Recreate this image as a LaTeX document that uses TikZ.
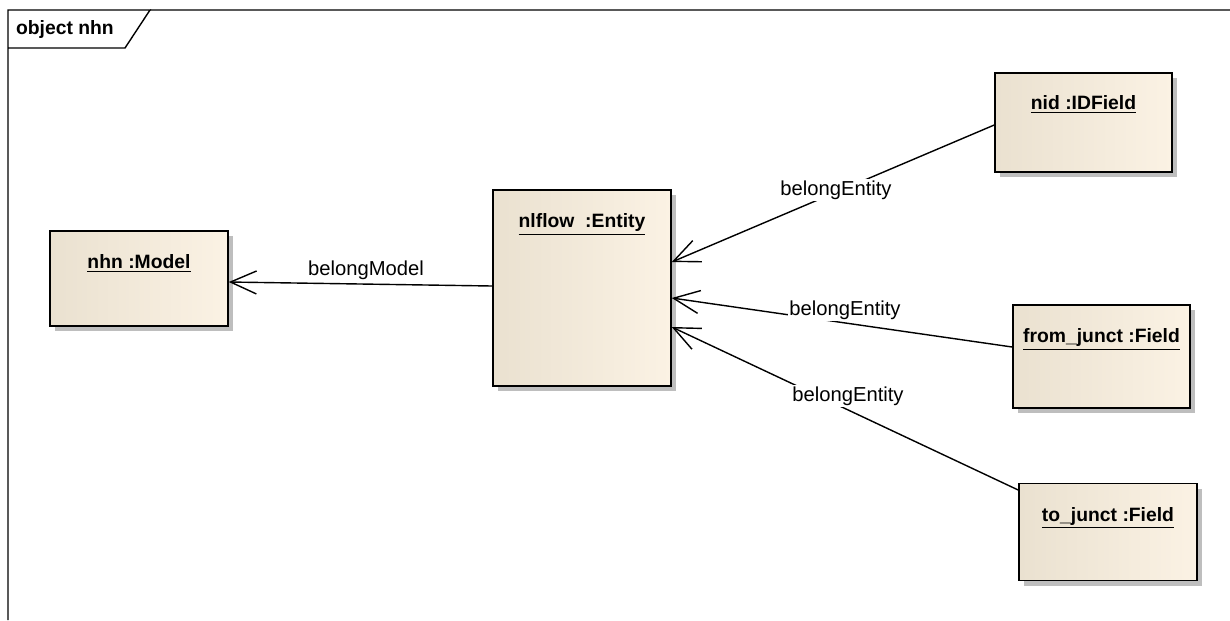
\documentclass[tikz,border=0pt]{standalone}
\usepackage{fontspec}
\setmainfont{Liberation Sans}
\usetikzlibrary{arrows.meta,shadows}
\begin{document}
\begin{tikzpicture}[x=0.02cm, y=-0.02cm,
  objbox/.style={draw, line width=0.9pt, rectangle, inner sep=0pt,
    left color={rgb,255:red,234;green,225;blue,208}, right color={rgb,255:red,251;green,242;blue,228},
    drop shadow={shadow xshift=0.1cm, shadow yshift=-0.1cm, fill={rgb,255:red,190;green,190;blue,190}, opacity=1}},
  objtitle/.style={font=\fontsize{11}{13}\selectfont\bfseries, inner sep=1pt},
  assoc/.style={line width=0.8pt, -{Straight Barb[length=0.52cm, width=0.46cm, line width=0.8pt]}},
  assoclabel/.style={font=\fontsize{11.5}{13}\selectfont, fill=white, inner sep=1pt}]
  \useasboundingbox (0,0) rectangle (1230,620);
  % frame and tab
  \draw [line width=0.8pt, gray!70!black] (150,10) -- (1230,10);
  \draw [line width=0.8pt] (8,620) -- (8,10) -- (150,10) -- (125,48) -- (8,48);
  \node [objtitle, anchor=west] (frametitle) at (14,29) {object nhn};
  % objects
  \node [objbox, minimum width=3.56cm, minimum height=1.9cm] (model) at (139,278.5) {};
  \node [objbox, minimum width=3.56cm, minimum height=3.92cm] (entity) at (582,288) {};
  \node [objbox, minimum width=3.54cm, minimum height=1.98cm] (nid) at (1083.5,122.5) {};
  \node [objbox, minimum width=3.54cm, minimum height=2.06cm] (fromjunct) at (1101.5,356.5) {};
  \node [objbox, minimum width=3.56cm, minimum height=1.94cm] (tojunct) at (1108,532) {};
  \node [objtitle, below=0.45cm] (modeltitle) at (model.north) {\underline{nhn :Model}};
  \node [objtitle, below=0.45cm] (entitytitle) at (entity.north) {\underline{nlflow\ \ :Entity}};
  \node [objtitle, below=0.43cm] (nidtitle) at (nid.north) {\underline{nid :IDField}};
  \node [objtitle, below=0.45cm] (fromjuncttitle) at (fromjunct.north) {\underline{from\_junct :Field}};
  \node [objtitle, below=0.45cm] (tojuncttitle) at (tojunct.north) {\underline{to\_junct :Field}};
  % links
  \draw [assoc] ([yshift=0.04cm]entity.west) -- ([yshift=-0.07cm]model.east);
  \draw [assoc] ([yshift=-0.05cm]nid.west) -- ([yshift=0.52cm]entity.east);
  \draw [assoc] ([yshift=0.19cm]fromjunct.west) -- ([yshift=-0.2cm]entity.east);
  \draw [assoc] ([yshift=0.84cm]tojunct.west) -- ([yshift=-0.78cm]entity.east);
  \node [assoclabel, fill=none] (modellink) at (366,270) {belongModel};
  \node [assoclabel] (nidlink) at (836,190) {belongEntity};
  \node [assoclabel] (fromlink) at (845,310) {belongEntity};
  \node [assoclabel] (tolink) at (848,396) {belongEntity};
\end{tikzpicture}
\end{document}
